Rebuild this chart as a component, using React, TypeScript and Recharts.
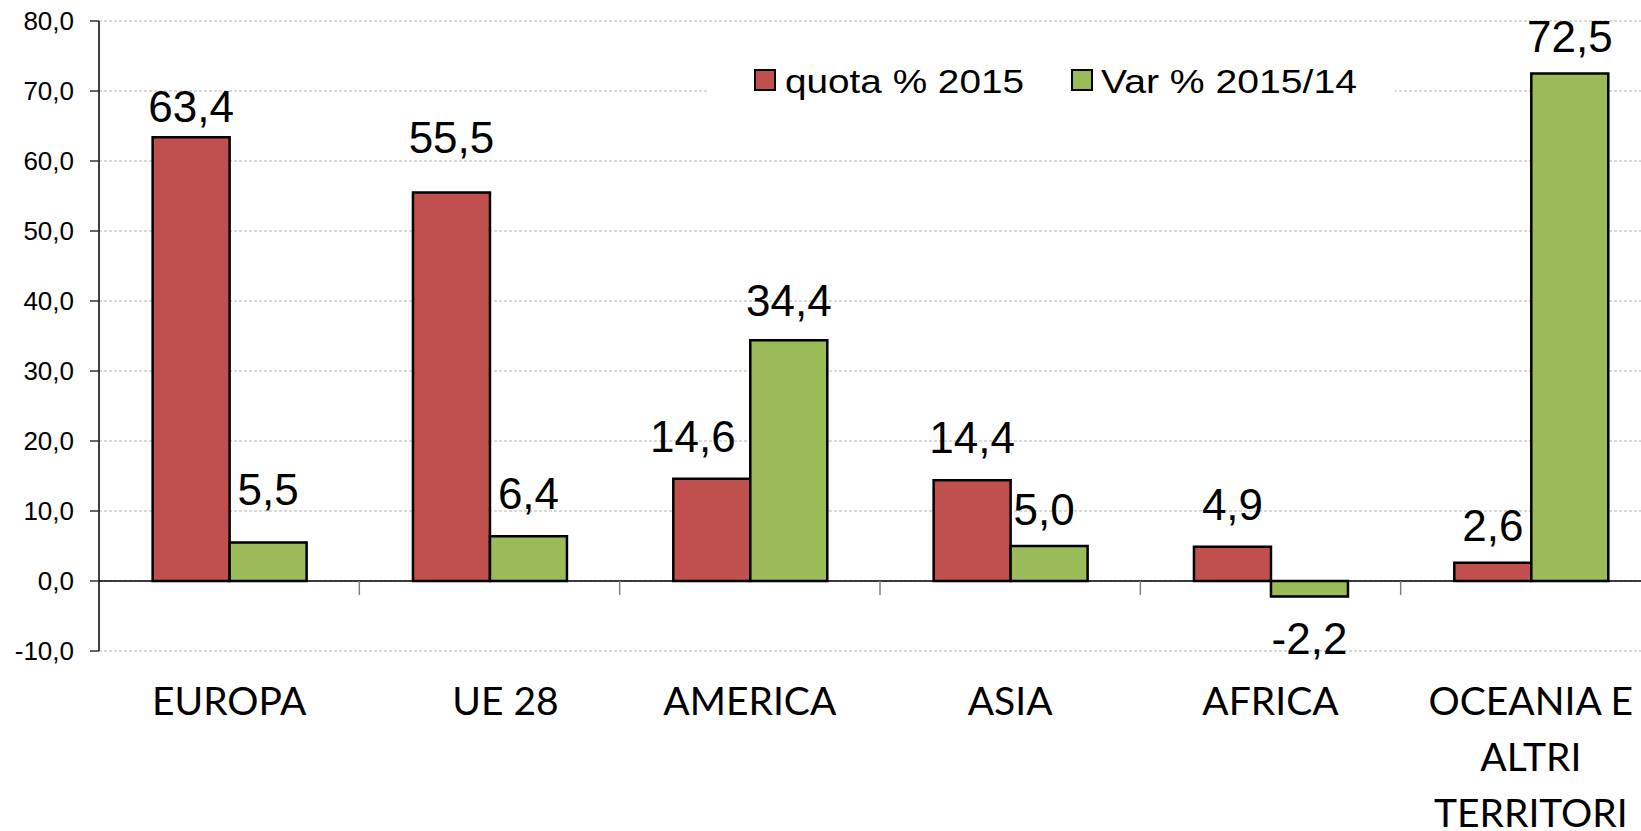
import React from 'react';
import { BarChart, Bar, XAxis, YAxis, CartesianGrid, LabelList, ReferenceLine, Legend } from 'recharts';

// ---- data ----
const categoryLines: string[][] = [
  ['EUROPA'],
  ['UE 28'],
  ['AMERICA'],
  ['ASIA'],
  ['AFRICA'],
  ['OCEANIA E', 'ALTRI', 'TERRITORI'],
];
const categories = categoryLines.map((l) => l.join(' '));
const quota2015 = [63.4, 55.5, 14.6, 14.4, 4.9, 2.6];
const var201514 = [5.5, 6.4, 34.4, 5.0, -2.2, 72.5];
const yTicks = [-10, 0, 10, 20, 30, 40, 50, 60, 70, 80];
const seriesNames = ['quota % 2015', 'Var % 2015/14'];

// label nudges (as placed in the original)
const quotaLabelGap = [15, 40, 27, 27, 27, 22];
const quotaLabelDx = [0, 0, -19, 0, 0, 0];
const varLabelGap = [38, 27, 24, 21, 27, 22];
const varLabelDx = [0, 0, 0, -5, 0, 0];
const categoryDx = [0, 16, 0, 0, 0, 0];

const data = categories.map((name, i) => ({ name, quota: quota2015[i], variazione: var201514[i] }));

const RED = '#C0504D';
const GREEN = '#9BBB59';
const FONT = '"Liberation Sans", Arial, sans-serif';

const fmt = (v: number) => v.toFixed(1).replace('.', ',');

const makeLabel = (gaps: number[], dxs: number[]) => (props: any) => {
  const x = Number(props.x);
  const y = Number(props.y);
  const w = Number(props.width);
  const h = Number(props.height);
  const idx = Number(props.index);
  const value = Number(props.value);
  const top = Math.min(y, y + h);
  const bottom = Math.max(y, y + h);
  const cx = x + w / 2 + (dxs[idx] || 0);
  const baseline = value < 0 ? bottom + gaps[idx] + 31 : top - gaps[idx];
  return (
    <text x={cx} y={baseline} textAnchor="middle" fontSize={44} fill="#000" fontFamily={FONT}>
      {fmt(value)}
    </text>
  );
};

const CategoryTick = (props: any) => {
  const { x, y, index } = props;
  const lines = categoryLines[index] || [String(props.payload?.value ?? '')];
  const cx = Number(x) + (categoryDx[index] || 0);
  return (
    <text x={cx} y={Number(y)} textAnchor="middle" fontSize={39} fill="#000" fontFamily='Lato, "Open Sans", sans-serif'>
      {lines.map((l, i) => (
        <tspan key={i} x={cx} dy={i === 0 ? 64 : 56}>
          {l}
        </tspan>
      ))}
    </text>
  );
};

const ZeroLine = (props: any) => {
  const { x1, y1, x2, y2 } = props;
  const n = categories.length;
  const band = (Number(x2) - Number(x1)) / n;
  const marks = [];
  for (let i = 1; i < n; i++) {
    const xx = Number(x1) + band * i;
    marks.push(<line key={i} x1={xx} x2={xx} y1={Number(y1)} y2={Number(y1) + 14} stroke="#808080" strokeWidth={1.5} />);
  }
  return (
    <g>
      <line x1={x1} y1={y1} x2={x2} y2={y2} stroke="#000" strokeWidth={1.5} />
      {marks}
    </g>
  );
};

const LegendBox = () => (
  <svg width={687} height={90} style={{ display: 'block', background: '#fff' }}>
    <rect x={47} y={25} width={20} height={20} fill={RED} stroke="#000" strokeWidth={2} />
    <text x={77} y={48} fontSize={34} fontFamily={FONT} fill="#000" textLength={239} lengthAdjust="spacingAndGlyphs">
      {seriesNames[0]}
    </text>
    <rect x={364} y={25} width={20} height={20} fill={GREEN} stroke="#000" strokeWidth={2} />
    <text x={393} y={48} fontSize={34} fontFamily={FONT} fill="#000" textLength={256} lengthAdjust="spacingAndGlyphs">
      {seriesNames[1]}
    </text>
  </svg>
);

export default function App() {
  return (
    <div style={{ position: 'fixed', left: 0, top: 0, width: 1641, height: 831, overflow: 'hidden', background: '#fff' }}>
      <BarChart
        width={1661}
        height={831}
        data={data}
        margin={{ top: 21, right: 0, left: 0, bottom: 0 }}
        barCategoryGap="20.6%"
        barGap={0}
      >
        <CartesianGrid vertical={false} stroke="#b3b3b3" strokeDasharray="3 2" />
        <XAxis
          dataKey="name"
          axisLine={false}
          tickLine={false}
          tickSize={0}
          tickMargin={0}
          height={180}
          interval={0}
          tick={<CategoryTick />}
        />
        <YAxis
          width={99}
          domain={[-10, 80]}
          ticks={yTicks}
          interval={0}
          tickFormatter={fmt}
          axisLine={{ stroke: '#000', strokeWidth: 1.5 }}
          tickLine={{ stroke: '#333', strokeWidth: 1.5 }}
          tickSize={9}
          tickMargin={16}
          tick={{ fontSize: 26, fill: '#000', fontFamily: FONT }}
          allowDataOverflow
        />
        <Legend
          layout="horizontal"
          verticalAlign="middle"
          align="center"
          wrapperStyle={{ left: 708, top: 45, width: 687, height: 90 }}
          content={() => <LegendBox />}
        />
        <Bar dataKey="quota" name={seriesNames[0]} fill={RED} stroke="#000" strokeWidth={2.5} isAnimationActive={false}>
          <LabelList dataKey="quota" content={makeLabel(quotaLabelGap, quotaLabelDx)} />
        </Bar>
        <Bar dataKey="variazione" name={seriesNames[1]} fill={GREEN} stroke="#000" strokeWidth={2.5} isAnimationActive={false}>
          <LabelList dataKey="variazione" content={makeLabel(varLabelGap, varLabelDx)} />
        </Bar>
        <ReferenceLine y={0} shape={(p: any) => <ZeroLine {...p} />} />
      </BarChart>
    </div>
  );
}
